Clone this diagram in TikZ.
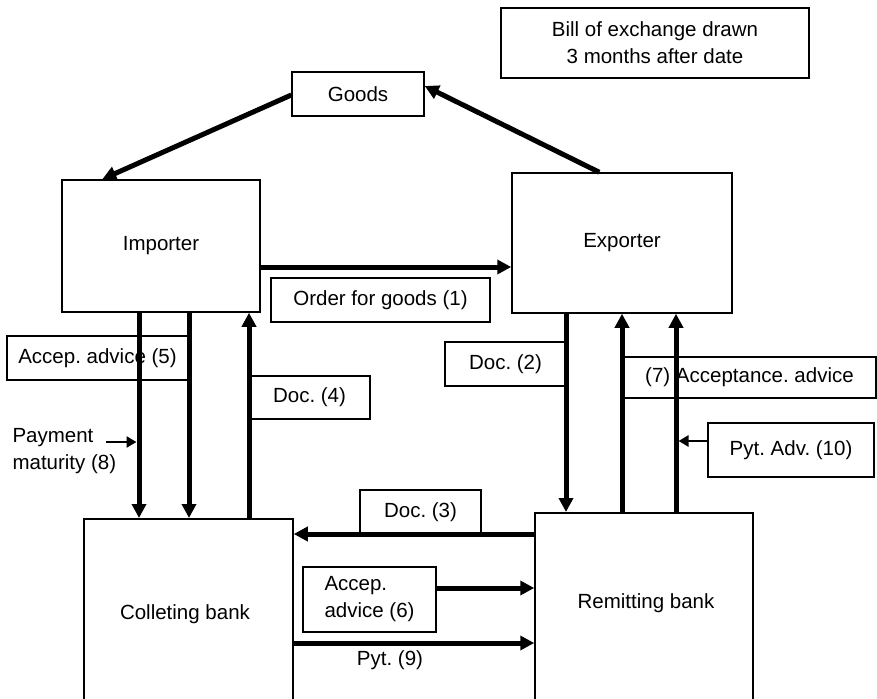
\documentclass[tikz,border=0pt]{standalone}
\usepackage{fontspec}
\setmainfont{Liberation Sans}
\usetikzlibrary{arrows.meta}
\frenchspacing
\begin{document}
\begin{tikzpicture}[x=1pt,y=-1pt,
  every node/.style={font=\fontsize{20.5}{27}\selectfont},
  box/.style={draw, line width=1.4pt, inner sep=0pt, align=center},
  party/.style={box, line width=1.5pt},
  flow/.style={line width=5pt, -{Triangle[length=14pt,width=14pt]}},
  hint/.style={line width=2.4pt, -{Triangle[length=10pt,width=11pt]}}]
\useasboundingbox (0,0) rectangle (877,698);

% note on the bill
\node[box, line width=2.4pt, minimum width=308pt, minimum height=70pt] (bill) at (655,43)
  {Bill of exchange drawn\\3 months after date};

% parties
\node[box, minimum width=132pt, minimum height=44pt] (goods) at (358,94) {Goods};
\node[party, minimum width=198pt, minimum height=132pt] (imp) at (161,246) {Importer};
\node[party, minimum width=220pt, minimum height=140pt] (exp) at (622,243) {Exporter};
\node[party, minimum width=209pt, minimum height=260pt, anchor=north] (col) at (188.5,518) {};
\node (coltxt) at (185,614) {Colleting bank};
\node[party, minimum width=218pt, minimum height=260pt, anchor=north] (rem) at (644,512) {};
\node (remtxt) at (646,603) {Remitting bank};

% step labels
\node[box, minimum width=219pt, minimum height=44pt] (l1) at (380.5,300) {Order for goods (1)};
\node[box, minimum width=121pt, minimum height=44pt] (l2) at (505.5,364) {Doc. (2)};
\node[box, minimum width=121pt, minimum height=44pt] (l3) at (420.5,512) {Doc. (3)};
\node[box, minimum width=121pt, minimum height=43pt] (l4) at (309.5,397.5) {Doc. (4)};
\node[box, minimum width=181pt, minimum height=44pt] (l5) at (97.5,358) {Accep. advice (5)};
\node[box, minimum width=133pt, minimum height=65pt, align=left] (l6) at (369.5,599.5) {Accep.\\advice (6)};
\node[box, minimum width=253pt, minimum height=41pt] (l7) at (749.5,377.5) {(7) Acceptance. advice};
\node[anchor=west, align=left] (l8) at (9,451) {Payment\\maturity (8)};
\node (l9) at (390,660) {Pyt. (9)};
\node[box, minimum width=166pt, minimum height=54pt] (l10) at (791,450) {Pyt. Adv. (10)};

% lanes and levels of the connectors
\coordinate (la) at (139,0);
\coordinate (lb) at (189,0);
\coordinate (lc) at (249,0);
\coordinate (ld) at (566,0);
\coordinate (le) at (622,0);
\coordinate (lf) at (676,0);
\coordinate (r1) at (0,267);
\coordinate (r3) at (0,534);
\coordinate (r6) at (0,588);
\coordinate (r9) at (0,643);
\coordinate (pm) at (106,442);
\coordinate (pmend) at (136.5,442);
\coordinate (pa) at (678.5,441);

% goods flow
\draw[flow] ([xshift=88pt]exp.north west) -- ([yshift=8pt]goods.east);
\draw[flow] ([yshift=-1pt]goods.west) -- ([xshift=41pt]imp.north west);

% order
\draw[flow] (r1 -| imp.east) -- (r1 -| exp.west);

% importer side
\draw[flow] (la |- imp.south) -- (la |- col.north);
\draw[flow] (lb |- imp.south) -- (lb |- col.north);
\draw[flow] (lc |- col.north) -- (lc |- imp.south);
\draw[hint] (pm) -- (pmend);

% exporter side
\draw[flow] (ld |- exp.south) -- (ld |- rem.north);
\draw[flow] (le |- rem.north) -- (le |- exp.south);
\draw[flow] (lf |- rem.north) -- (lf |- exp.south);
\draw[hint] (l10.west |- pa) -- (pa);

% between the banks
\draw[flow] (rem.west |- r3) -- (col.east |- r3);
\draw[flow] (l6.east |- r6) -- (rem.west |- r6);
\draw[flow] (col.east |- r9) -- (rem.west |- r9);
\end{tikzpicture}
\end{document}
